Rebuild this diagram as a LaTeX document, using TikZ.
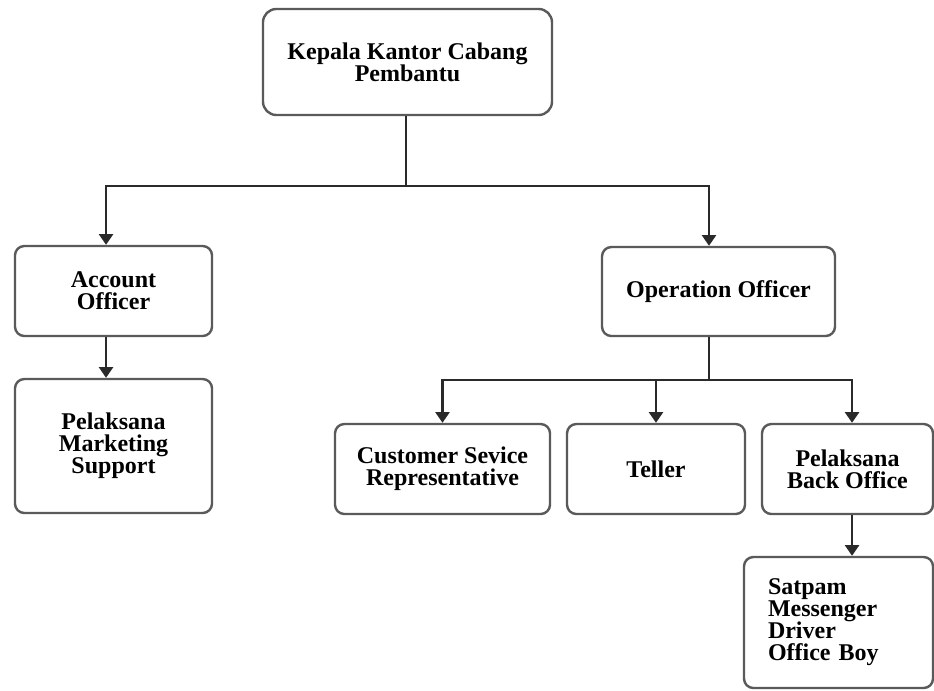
\documentclass[tikz,border=0pt]{standalone}
\usepackage{fontspec}
\setmainfont{Liberation Serif}
\usetikzlibrary{arrows.meta}
\definecolor{OrgBorder}{HTML}{5A5A5A}
\definecolor{OrgLink}{HTML}{2A2A2A}

\tikzset{
  orgbox/.style={
    rounded corners=7pt,
    draw=OrgBorder,
    line width=1.8pt,
    fill=white,
    align=center,
    font=\fontsize{18pt}{16.5pt}\selectfont\bfseries
  },
  link/.style={draw=OrgLink, line width=1.7pt},
  linkarrow/.style={link, -{Triangle[width=10.5pt,length=8pt]}}
}

\begin{document}
\begin{tikzpicture}[x=0.75pt,y=-0.75pt]
  \useasboundingbox (0,0) rectangle (934,690);

  \node[orgbox, rounded corners=10pt, minimum width=216.75pt, minimum height=79.5pt]
    (kkcp) at (407.5,62) {Kepala Kantor Cabang\\Pembantu};

  \node[orgbox, minimum width=147.75pt, minimum height=67.5pt]
    (ao) at (113.5,291) {Account\\Officer};
  \node[orgbox, minimum width=147.75pt, minimum height=100.5pt]
    (pms) at (113.5,446) {Pelaksana\\Marketing\\Support};

  \node[orgbox, minimum width=174.75pt, minimum height=66.75pt]
    (oo) at (718.5,291.5) {Operation Officer};

  \node[orgbox, minimum width=161.25pt, minimum height=67.5pt]
    (csr) at (442.5,469) {Customer Sevice\\Representative};
  \node[orgbox, minimum width=133.5pt, minimum height=67.5pt]
    (teller) at (656,469) {Teller};
  \node[orgbox, minimum width=128.25pt, minimum height=67.5pt]
    (pbo) at (847.5,469) {Pelaksana\\Back Office};

  \node[
    orgbox,
    align=left,
    inner xsep=18pt,
    text width=105.75pt,
    minimum height=98.25pt
  ] (satpam) at (838.5,622.5) {Satpam\\Messenger\\Driver\\Office Boy};

  \coordinate (topbus) at (406,186);
  \coordinate (opbus) at (709,380);

  \draw[link] (kkcp.south -| topbus) -- (topbus);
  \draw[linkarrow] (topbus) -| ([xshift=-5.6pt]ao.north);
  \draw[linkarrow] (topbus) -| (oo.north -| opbus);

  \draw[linkarrow] ([xshift=-5.6pt]ao.south) -- ([xshift=-5.6pt]ao.south |- pms.north);

  \draw[link] (oo.south -| opbus) -- (opbus);
  \draw[linkarrow] (opbus) -| (csr.north);
  \draw[linkarrow] (opbus) -| (teller.north);
  \draw[linkarrow] (opbus) -| ([xshift=3.4pt]pbo.north);

  \draw[linkarrow] ([xshift=3.4pt]pbo.south) -- ([xshift=3.4pt]pbo.south |- satpam.north);
\end{tikzpicture}
\end{document}
